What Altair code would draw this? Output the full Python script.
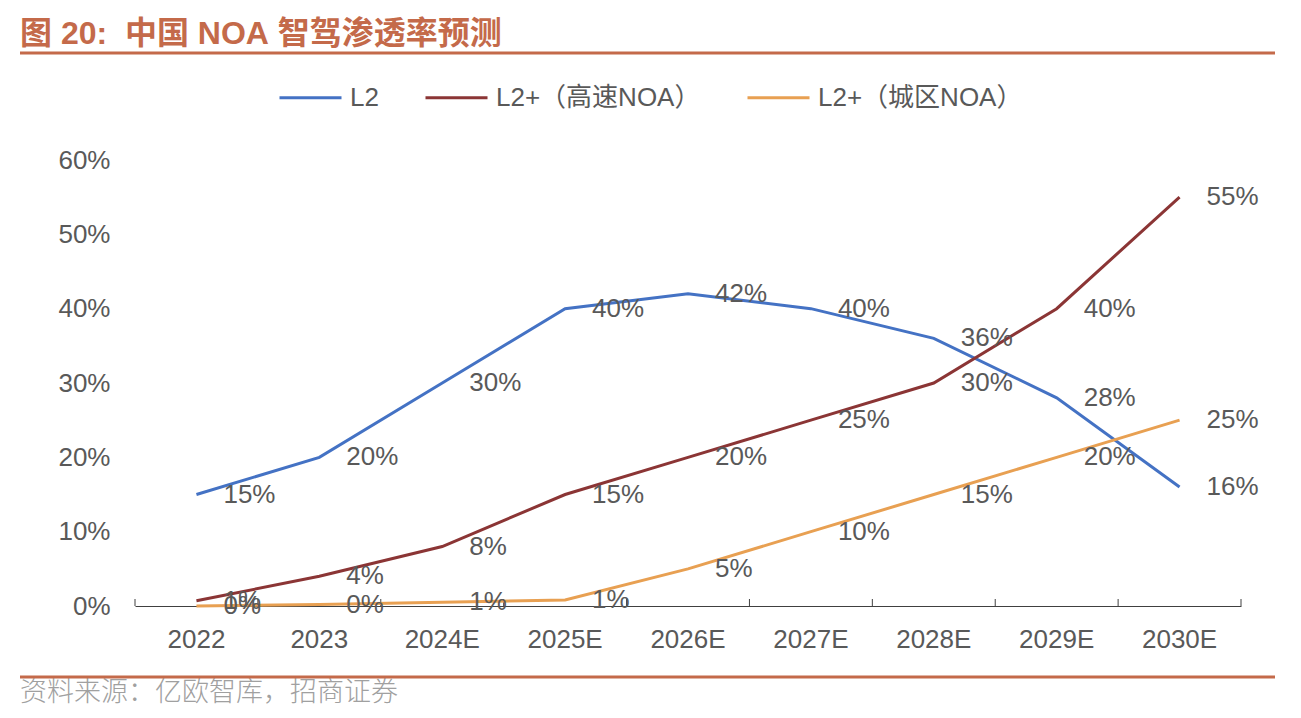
import altair as alt
import pandas as pd

years = ["2022", "2023", "2024E", "2025E", "2026E", "2027E", "2028E", "2029E", "2030E"]
series = ["L2", "L2+（高速NOA）", "L2+（城区NOA）"]
colors = ["#4472C4", "#8B3535", "#E8A052"]

l2 = [15, 20, 30, 40, 42, 40, 36, 28, 16]
l2_hw = [0.7, 4, 8, 15, 20, 25, 30, 40, 55]
l2_city = [0, 0.2, 0.5, 0.8, 5, 10, 15, 20, 25]

l2_lab = ["15%", "20%", "30%", "40%", "42%", "40%", "36%", "28%", "16%"]
l2_hw_lab = ["1%", "4%", "8%", "15%", "20%", "25%", "30%", "40%", "55%"]
l2_city_lab = ["0%", "0%", "1%", "1%", "5%", "10%", "15%", "20%", "25%"]

y_ticks = [0, 10, 20, 30, 40, 50, 60]

title_text = "图\u00a020:\u00a0\u00a0中国\u00a0NOA\u00a0智驾渗透率预测"
source_text = "资料来源：亿欧智库，招商证券"

rows = []
for s, vals, labs in [(series[0], l2, l2_lab), (series[1], l2_hw, l2_hw_lab), (series[2], l2_city, l2_city_lab)]:
    for yr, v, lb in zip(years, vals, labs):
        rows.append({"year": yr, "series": s, "value": v, "label": lb})
df = pd.DataFrame(rows)

FONT = "Liberation Sans, Noto Sans CJK SC"
TXT = "#595959"
ACC = "#C46A4A"

W, H = 1106, 446

xscale = alt.Scale(type="band", domain=years, paddingInner=0, paddingOuter=0)
xaxis = alt.Axis(title=None, labelFont=FONT, labelFontSize=26, labelColor=TXT,
                 labelPadding=20, ticks=False, tickSize=0, domain=True,
                 domainColor="#404040", domainWidth=1, grid=False, labelAngle=0)
yscale = alt.Scale(domain=[0, 60])
yaxis = alt.Axis(title=None, values=y_ticks, labelExpr="datum.value + '%'",
                 labelFont=FONT, labelFontSize=26, labelColor=TXT, labelPadding=25,
                 ticks=False, tickSize=0, domain=False, grid=False)

base = alt.Chart(df)

lines = base.mark_line(strokeWidth=3).encode(
    x=alt.X("year:N", scale=xscale, axis=xaxis, sort=years, bandPosition=0.5),
    y=alt.Y("value:Q", scale=yscale, axis=yaxis),
    color=alt.Color("series:N", scale=alt.Scale(domain=series, range=colors),
                    sort=series,
                    legend=alt.Legend(title=None, orient="none", direction="horizontal",
                                      legendX=143, legendY=-95,
                                      symbolType="stroke", symbolSize=3844,
                                      symbolStrokeWidth=3, labelFont=FONT,
                                      labelFontSize=26, labelColor=TXT,
                                      labelOffset=7, columnPadding=40,
                                      labelLimit=500)),
)

labels = base.mark_text(align="left", baseline="middle", dx=27, fontSize=26,
                        font=FONT, color=TXT).encode(
    x=alt.X("year:N", scale=xscale, axis=xaxis, sort=years, bandPosition=0.5),
    y=alt.Y("value:Q", scale=yscale, axis=yaxis),
    text="label:N",
)

tick_df = pd.DataFrame({"year": years})
ticks_left = alt.Chart(tick_df).mark_rule(color="#404040", strokeWidth=1).encode(
    x=alt.X("year:N", scale=xscale, axis=xaxis, sort=years, bandPosition=0),
    y=alt.value(H - 7), y2=alt.value(H),
)
ticks_right = alt.Chart(pd.DataFrame({"year": [years[-1]]})).mark_rule(color="#404040", strokeWidth=1).encode(
    x=alt.X("year:N", scale=xscale, axis=xaxis, sort=years, bandPosition=1),
    y=alt.value(H - 7), y2=alt.value(H),
)

one = pd.DataFrame({"t": [0]})
title = alt.Chart(one).mark_text(align="left", baseline="alphabetic", fontSize=32,
                                 fontWeight="bold", font=FONT, color=ACC).encode(
    x=alt.value(-115), y=alt.value(-116), text=alt.value(title_text))
source = alt.Chart(one).mark_text(align="left", baseline="alphabetic", fontSize=27,
                                  font="Noto Sans CJK SC", fontWeight=300, color="#A0A0A0").encode(
    x=alt.value(-115), y=alt.value(541), text=alt.value(source_text))
rule_top = alt.Chart(one).mark_rule(color=ACC, strokeWidth=3).encode(
    x=alt.value(-115), x2=alt.value(1140), y=alt.value(-107))
rule_bot = alt.Chart(one).mark_rule(color=ACC, strokeWidth=3).encode(
    x=alt.value(-115), x2=alt.value(1140), y=alt.value(517))

chart = alt.layer(ticks_left, ticks_right, lines, labels, title, source, rule_top, rule_bot).properties(
    width=W, height=H,
    background="white",
    autosize=alt.AutoSizeParams(type="none"),
    padding={"left": 127, "top": 152, "right": 52, "bottom": 102},
).configure_view(strokeWidth=0, stroke=None)

chart.save("out.html", embed_options={"renderer": "svg", "actions": False})
